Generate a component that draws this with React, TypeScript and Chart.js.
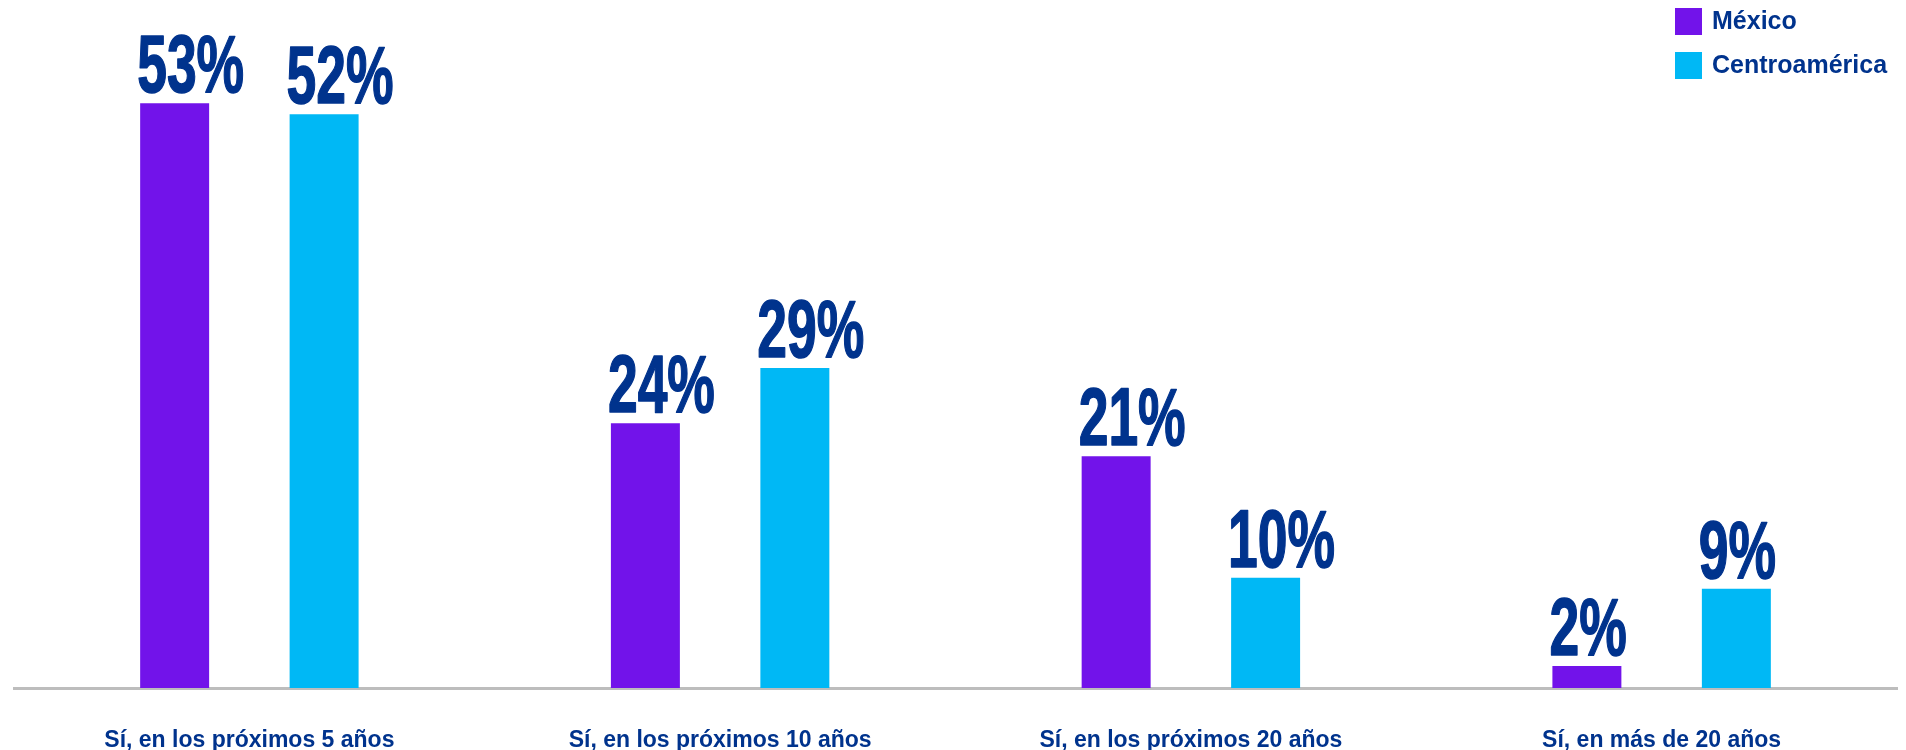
import React, { useEffect, useRef } from "react";
import { Chart, registerables } from "chart.js";

Chart.register(...registerables);

const categories = [
  "Sí, en los próximos 5 años",
  "Sí, en los próximos 10 años",
  "Sí, en los próximos 20 años",
  "Sí, en más de 20 años",
];
const seriesNames = ["México", "Centroamérica"];
const mexicoValues = [53, 24, 21, 2];
const centroamericaValues = [52, 29, 10, 9];
const seriesColors = ["#7213EA", "#00B8F5"];

const NAVY = "#00338D";
const AXIS_GREY = "#BDBDBD";
const TEXT_FONT = '"Liberation Sans", Arial, sans-serif';
const NUMBER_FONT = '"Liberation Sans", Arial, sans-serif';

const valueLabelPlugin = {
  id: "valueLabels",
  afterDatasetsDraw(chart: any) {
    const ctx = chart.ctx;
    chart.data.datasets.forEach((ds: any, i: number) => {
      const meta = chart.getDatasetMeta(i);
      meta.data.forEach((bar: any, j: number) => {
        const { x, y, width } = bar.getProps(["x", "y", "width"], true);
        ctx.save();
        ctx.font = `bold 81px ${NUMBER_FONT}`;
        ctx.fillStyle = NAVY;
        ctx.strokeStyle = NAVY;
        ctx.lineWidth = 1.5;
        ctx.lineJoin = "round";
        ctx.textAlign = "left";
        ctx.textBaseline = "alphabetic";
        ctx.translate(x - width / 2 - 3, y - 11);
        ctx.scale(0.66, 1);
        const txt = `${ds.data[j]}%`;
        ctx.fillText(txt, 0, 0);
        ctx.strokeText(txt, 0, 0);
        ctx.restore();
      });
    });
  },
};

const legendPlugin = {
  id: "cornerLegend",
  afterDraw(chart: any) {
    const ctx = chart.ctx;
    const boxX = 1675;
    const boxSize = 27;
    chart.data.datasets.forEach((ds: any, i: number) => {
      const top = 8 + i * 44;
      ctx.save();
      ctx.fillStyle = ds.backgroundColor;
      ctx.fillRect(boxX, top, boxSize, boxSize);
      ctx.font = `bold 25px ${TEXT_FONT}`;
      ctx.fillStyle = NAVY;
      ctx.textAlign = "left";
      ctx.textBaseline = "middle";
      ctx.fillText(ds.label, boxX + 37, top + boxSize / 2 + 1);
      ctx.restore();
    });
  },
};

export default function App() {
  const canvasRef = useRef<HTMLCanvasElement | null>(null);

  useEffect(() => {
    if (!canvasRef.current) return;
    const chart = new Chart(canvasRef.current, {
      type: "bar",
      data: {
        labels: categories,
        datasets: [
          {
            label: seriesNames[0],
            data: mexicoValues,
            backgroundColor: seriesColors[0],
            barPercentage: 0.4615,
            categoryPercentage: 0.635,
          },
          {
            label: seriesNames[1],
            data: centroamericaValues,
            backgroundColor: seriesColors[1],
            barPercentage: 0.4615,
            categoryPercentage: 0.635,
          },
        ],
      },
      options: {
        responsive: false,
        animation: false,
        layout: { padding: { left: 14, right: 9, top: 26, bottom: 0 } },
        plugins: {
          legend: { display: false },
          tooltip: { enabled: false },
        },
        scales: {
          x: {
            grid: { display: false },
            border: { display: true, color: AXIS_GREY, width: 3 },
            ticks: {
              color: NAVY,
              font: { family: TEXT_FONT, size: 23, weight: "bold" },
              padding: 31,
              maxRotation: 0,
              autoSkip: false,
            },
            afterFit(scale: any) {
              scale.height = 62;
            },
          },
          y: {
            display: false,
            min: 0,
            max: 60,
          },
        },
      },
      plugins: [valueLabelPlugin, legendPlugin],
    });
    return () => chart.destroy();
  }, []);

  return (
    <div style={{ position: "fixed", left: 0, top: 0, width: 1906, height: 750, background: "#fff" }}>
      <canvas ref={canvasRef} width={1906} height={750} style={{ display: "block" }} />
    </div>
  );
}
